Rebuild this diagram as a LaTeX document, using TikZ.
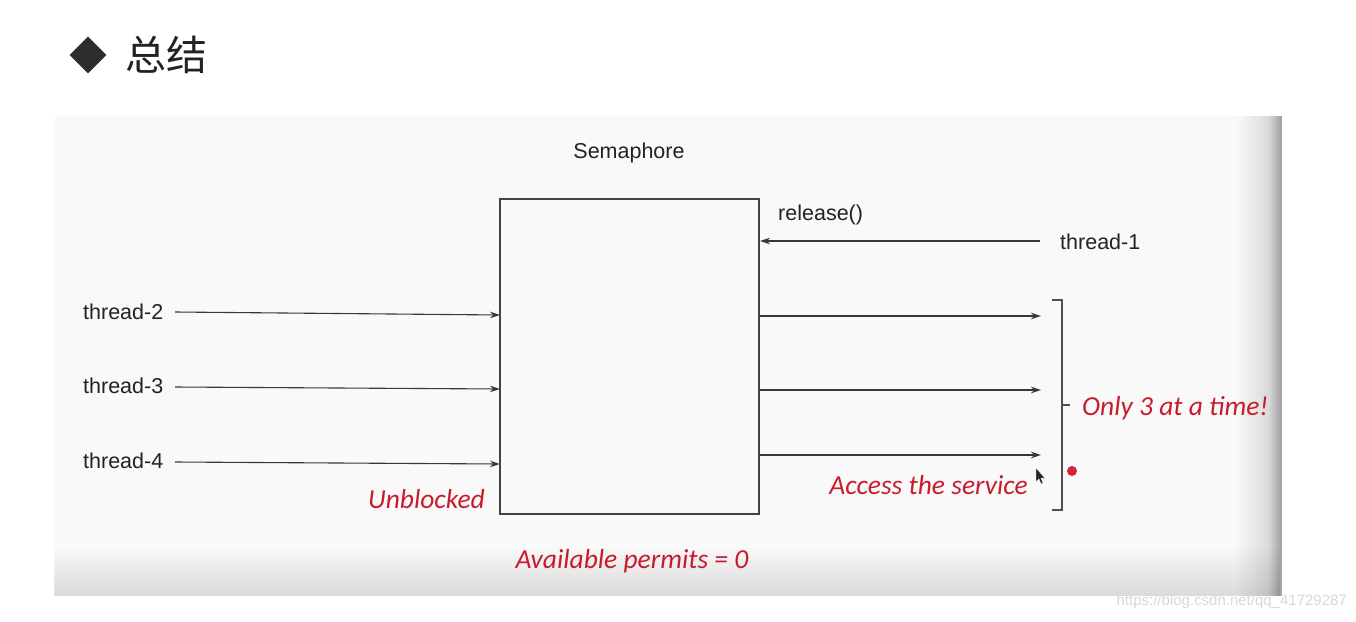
\documentclass[tikz,border=0pt]{standalone}
\usepackage{fontspec}
\setmainfont{Liberation Sans}
\newfontfamily\cjk{Noto Sans CJK SC}
\newfontfamily\hand{Carlito}
\usetikzlibrary{arrows.meta,shapes.geometric,fadings}
\definecolor{ink}{HTML}{222222}
\definecolor{hred}{RGB}{200,28,45}
\definecolor{panel}{HTML}{F9F9F9}
\tikzfading[name=fadedown, top color=transparent!100, bottom color=transparent!0]
\tikzfading[name=faderight, left color=transparent!100, right color=transparent!0]
\tikzset{
  lbl/.style={font=\fontsize{21.5}{25}\selectfont, text=ink, inner sep=0pt},
  red/.style={font=\hand\itshape\fontsize{27.5}{31}\selectfont, text=hred, inner sep=0pt},
  conn/.style={draw=ink!90, line width=1.1pt, -{Stealth[length=10pt,width=6.5pt]}},
}
\begin{document}
\begin{tikzpicture}[x=1pt,y=-1pt]
\useasboundingbox (0,0) rectangle (1356,621);
\fill[white] (0,0) rectangle (1356,621);
% title
\node[diamond, fill=ink!95, inner sep=0pt, minimum width=37pt, minimum height=37pt] (dia) at (88,55) {};
\node[font=\cjk\fontsize{41}{46}\selectfont, text=ink, inner sep=0pt] (title) at (166,55) {总结};
% panel
\fill[panel] (55,116) rectangle (1282,596);
\fill[black, path fading=faderight, fill opacity=0.12] (1236,116) rectangle (1268,596);
\fill[black!12!panel] (1268,116) rectangle (1282,596);
\fill[black, path fading=faderight, fill opacity=0.28] (1268,116) rectangle (1282,596);
\fill[black, path fading=fadedown, fill opacity=0.12] (55,546) rectangle (1282,596);
% box
\node[lbl] (sem) at (629,153) {Semaphore};
\draw[ink!85, line width=1.3pt] (500,199) rectangle (759,514);
\coordinate (bL2) at (500,315);
\coordinate (bL3) at (500,389);
\coordinate (bL4) at (500,464);
\coordinate (bR1) at (760,241);
\coordinate (bR2) at (760,316);
\coordinate (bR3) at (760,390);
\coordinate (bR4) at (760,455);
% texts
\node[lbl, anchor=west] (rel) at (778,215) {release()};
\node[lbl, anchor=west] (t1) at (1060,242) {thread-1};
\node[lbl, anchor=west] (t2) at (83,312) {thread-2};
\node[lbl, anchor=west] (t3) at (83,386) {thread-3};
\node[lbl, anchor=west] (t4) at (83,461) {thread-4};
% arrows
\coordinate (i1) at (1040,241);
\coordinate (i2) at (175,312);
\coordinate (i3) at (175,387);
\coordinate (i4) at (175,462);
\draw[conn] (i1) -- (bR1);
\draw[conn] (i2) -- (bL2);
\draw[conn] (i3) -- (bL3);
\draw[conn] (i4) -- (bL4);
\coordinate (o2) at (1041,316);
\coordinate (o3) at (1041,390);
\coordinate (o4) at (1041,455);
\draw[conn] (bR2) -- (o2);
\draw[conn] (bR3) -- (o3);
\draw[conn] (bR4) -- (o4);
% bracket
\draw[ink!80, line width=1.2pt] (1052,300) -- (1062,300) -- (1062,510) -- (1052,510);
\draw[ink!80, line width=1.2pt] (1062,405) -- (1070,405);
% red notes
\node[red, anchor=west] (only) at (1082,408) {Only 3 at a time!};
\node[red, anchor=east] (acc) at (1028,485) {Access the service};
\node[red, anchor=east] (unb) at (485,499) {Unblocked};
\node[red] (avail) at (632,561) {Available permits = 0};
\fill[hred!95] (1072,471) circle (5);
% cursor
\filldraw[fill=black!85, draw=white, line width=0.4pt] (1036,468) -- (1036,482) -- (1039,479) -- (1041,484) -- (1043,483) -- (1041,478) -- (1045,478) -- cycle;
% watermark
\node[font=\fontsize{15}{18}\selectfont, text=black!15, anchor=east, inner sep=0pt] (wm) at (1347,602) {https://blog.csdn.net/qq\_41729287};
\end{tikzpicture}
\end{document}
